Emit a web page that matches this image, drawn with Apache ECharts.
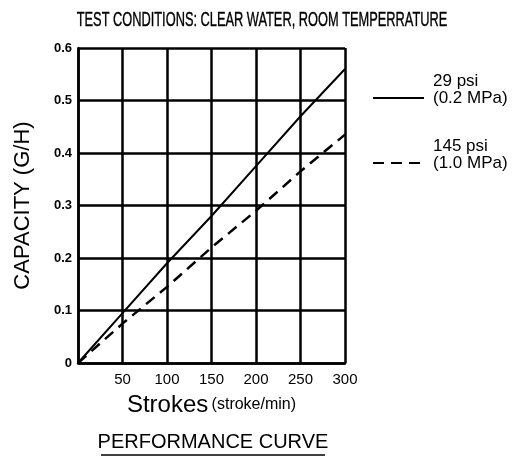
<!DOCTYPE html>
<html>
<head>
<meta charset="utf-8">
<script src="https://cdn.jsdelivr.net/npm/echarts@6/dist/echarts.min.js"></script>
<style>
html, body { margin: 0; padding: 0; background: #fff; }
#chart { width: 516px; height: 458px; }
</style>
</head>
<body>
<div id="chart"></div>
<script>
// values
var strokes = [0, 50, 100, 150, 200, 250, 300];
var cap29 = [0, 0.095, 0.19, 0.28, 0.375, 0.47, 0.56];
var cap145 = [0, 0.075, 0.145, 0.22, 0.29, 0.365, 0.435];
var seriesNames = ['29 psi\n(0.2 MPa)', '145 psi\n(1.0 MPa)'];

function pairs(ys) {
    return strokes.map(function (x, i) { return [x, ys[i]]; });
}

var dom = document.getElementById('chart');
var myChart = echarts.init(dom);
var font = 'Liberation Sans, Arial, sans-serif';

var option = {
    backgroundColor: '#fff',
    animation: false,
    textStyle: { fontFamily: font, color: '#000' },
    grid: { left: 78, right: 171, top: 48, bottom: 95 },
    legend: {
        orient: 'vertical',
        left: 372,
        top: 73,
        padding: 0,
        itemWidth: 51,
        itemHeight: 10,
        itemGap: 15,
        data: seriesNames,
        itemStyle: { opacity: 0 },
        // blank third line lifts the two text lines above the icon
        formatter: function (name) { return name + '\n '; },
        textStyle: {
            fontFamily: font, fontSize: 17, color: '#000',
            lineHeight: 16.5, padding: [0, 0, 0, 4]
        }
    },
    xAxis: {
        type: 'value',
        min: 0,
        max: 300,
        interval: 50,
        name: '{a|Strokes} {b|(stroke/min)}',
        nameLocation: 'middle',
        nameGap: 30,
        nameTextStyle: {
            rich: {
                a: { fontSize: 24, fontFamily: font, color: '#000' },
                b: { fontSize: 16, fontFamily: font, color: '#000' }
            }
        },
        axisLine: { lineStyle: { color: '#000', width: 2.5 } },
        axisTick: { show: false },
        axisLabel: {
            fontSize: 15,
            color: '#000',
            margin: 9,
            formatter: function (v) { return v === 0 ? '' : v; }
        },
        splitLine: { lineStyle: { color: '#000', width: 2.5 } }
    },
    yAxis: {
        type: 'value',
        min: 0,
        max: 0.6,
        interval: 0.1,
        name: 'CAPACITY (G/H)',
        nameLocation: 'middle',
        nameGap: 44,
        nameTextStyle: { fontSize: 22, fontFamily: font, color: '#000' },
        axisLine: { show: true, lineStyle: { color: '#000', width: 2.5 } },
        axisTick: { show: false },
        axisLabel: { fontSize: 13, fontWeight: 'bold', color: '#000', margin: 6 },
        splitLine: { lineStyle: { color: '#000', width: 2.5 } }
    },
    graphic: [
        {
            type: 'text',
            x: 262,
            y: 20,
            scaleX: 0.61,
            style: {
                text: 'TEST CONDITIONS: CLEAR WATER, ROOM TEMPERRATURE',
                font: '21px "Liberation Sans", Arial, sans-serif',
                fill: '#000',
                stroke: '#000',
                lineWidth: 0.4,
                textAlign: 'center',
                textVerticalAlign: 'middle'
            }
        },
        {
            type: 'text',
            x: 213,
            y: 442,
            style: {
                text: 'PERFORMANCE CURVE',
                font: '20px "Liberation Sans", Arial, sans-serif',
                fill: '#000',
                textAlign: 'center',
                textVerticalAlign: 'middle'
            }
        },
        {
            type: 'line',
            shape: { x1: 101, y1: 455, x2: 325, y2: 455 },
            style: { stroke: '#000', lineWidth: 1.5 }
        }
    ],
    series: [
        {
            name: seriesNames[0],
            type: 'line',
            symbol: 'none',
            data: pairs(cap29),
            lineStyle: { color: '#000', width: 2 },
            itemStyle: { color: '#000' }
        },
        {
            name: seriesNames[1],
            type: 'line',
            symbol: 'none',
            data: pairs(cap145),
            lineStyle: { color: '#000', width: 2.5, type: [11, 7] },
            itemStyle: { color: '#000' }
        }
    ]
};

myChart.setOption(option, true);
</script>
</body>
</html>
